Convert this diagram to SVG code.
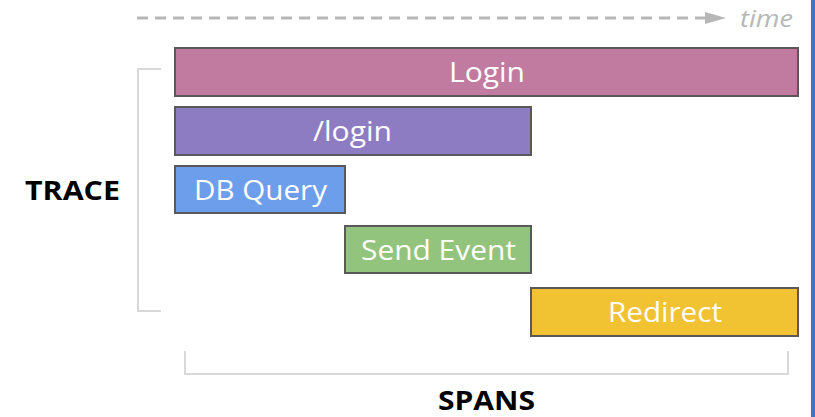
<svg xmlns="http://www.w3.org/2000/svg" width="815" height="417" viewBox="0 0 815 417">
<defs>
<style>
.span rect{stroke:#595959;stroke-width:2}
.span text{font-family:"Open Sans","Liberation Sans",sans-serif;font-size:27px;fill:#fff;text-anchor:middle}
.lbl{font-family:"Open Sans","Liberation Sans",sans-serif;font-weight:bold;font-size:26px;fill:#000}
.brk{fill:none;stroke:#d9d9d9;stroke-width:2}
</style>
</defs>
<rect width="815" height="417" fill="#fff"/>
<rect x="811" y="0" width="4" height="417" fill="#4472c4"/>
<g id="connectors">
<path d="M137,18 H707" stroke="#b7b7b7" stroke-width="3" stroke-dasharray="11,7" fill="none"/>
<path d="M705,12 L726,18 L705,24 Z" fill="#b7b7b7"/>
<path class="brk" d="M161,69 H138 V311 H161"/>
<path class="brk" d="M185,351 V374 H788 V351"/>
</g>
<text x="740" y="27" font-family="Open Sans, Liberation Sans, sans-serif" font-style="italic" font-size="23" fill="#b7b7b7" textLength="53" lengthAdjust="spacingAndGlyphs">time</text>
<g id="login" class="span"><rect x="175" y="48" width="623" height="48" fill="#c27ba0"/><text x="487" y="82" textLength="76" lengthAdjust="spacingAndGlyphs">Login</text></g>
<g id="login-path" class="span"><rect x="175" y="107" width="356" height="48" fill="#8e7cc3"/><text x="352.5" y="141" textLength="79" lengthAdjust="spacingAndGlyphs">/login</text></g>
<g id="db-query" class="span"><rect x="175" y="166" width="170" height="47" fill="#6d9eeb"/><text x="260.5" y="200" textLength="133" lengthAdjust="spacingAndGlyphs">DB Query</text></g>
<g id="send-event" class="span"><rect x="345" y="226" width="186" height="47" fill="#93c47d"/><text x="438.5" y="260" textLength="155" lengthAdjust="spacingAndGlyphs">Send Event</text></g>
<g id="redirect" class="span"><rect x="531" y="288" width="267" height="48" fill="#f1c232"/><text x="665" y="322" textLength="114" lengthAdjust="spacingAndGlyphs">Redirect</text></g>
<g id="trace"><text class="lbl" x="72.5" y="200" text-anchor="middle" textLength="95" lengthAdjust="spacingAndGlyphs">TRACE</text></g>
<g id="spans"><text class="lbl" x="486.5" y="410" text-anchor="middle" font-size="25" textLength="97" lengthAdjust="spacingAndGlyphs">SPANS</text></g>
</svg>
